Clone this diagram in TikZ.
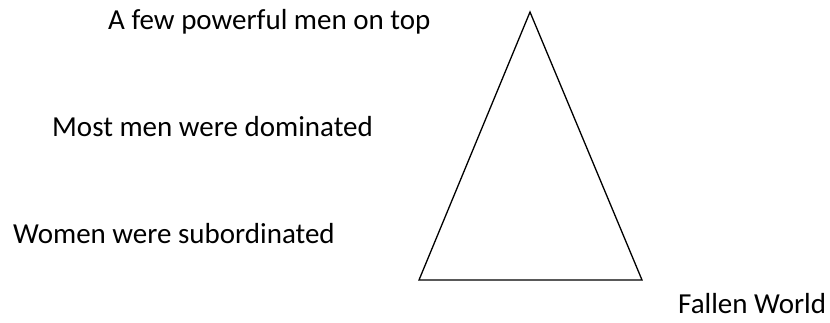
\documentclass[tikz,border=0pt]{standalone}
\usepackage{fontspec}
\setmainfont{Carlito}
\begin{document}
\begin{tikzpicture}[x=1pt,y=-1pt,
  lbl/.style={anchor=base west,inner sep=0pt,font=\fontsize{29}{34}\selectfont}]
\useasboundingbox (0,0) rectangle (830,322);
\coordinate (T) at (530,12);
\coordinate (L) at (419,280);
\coordinate (R) at (642,280);
\draw[line width=1.3pt,line join=miter] (T) -- (L) -- (R) -- cycle;

\node[lbl] (top) at (108,29) {A few powerful men on top};
\node[lbl] (men) at (52,136) {Most men were dominated};
\node[lbl] (women) at (13,243) {Women were subordinated};
\node[lbl] (world) at (678,313) {Fallen World};
\end{tikzpicture}
\end{document}
